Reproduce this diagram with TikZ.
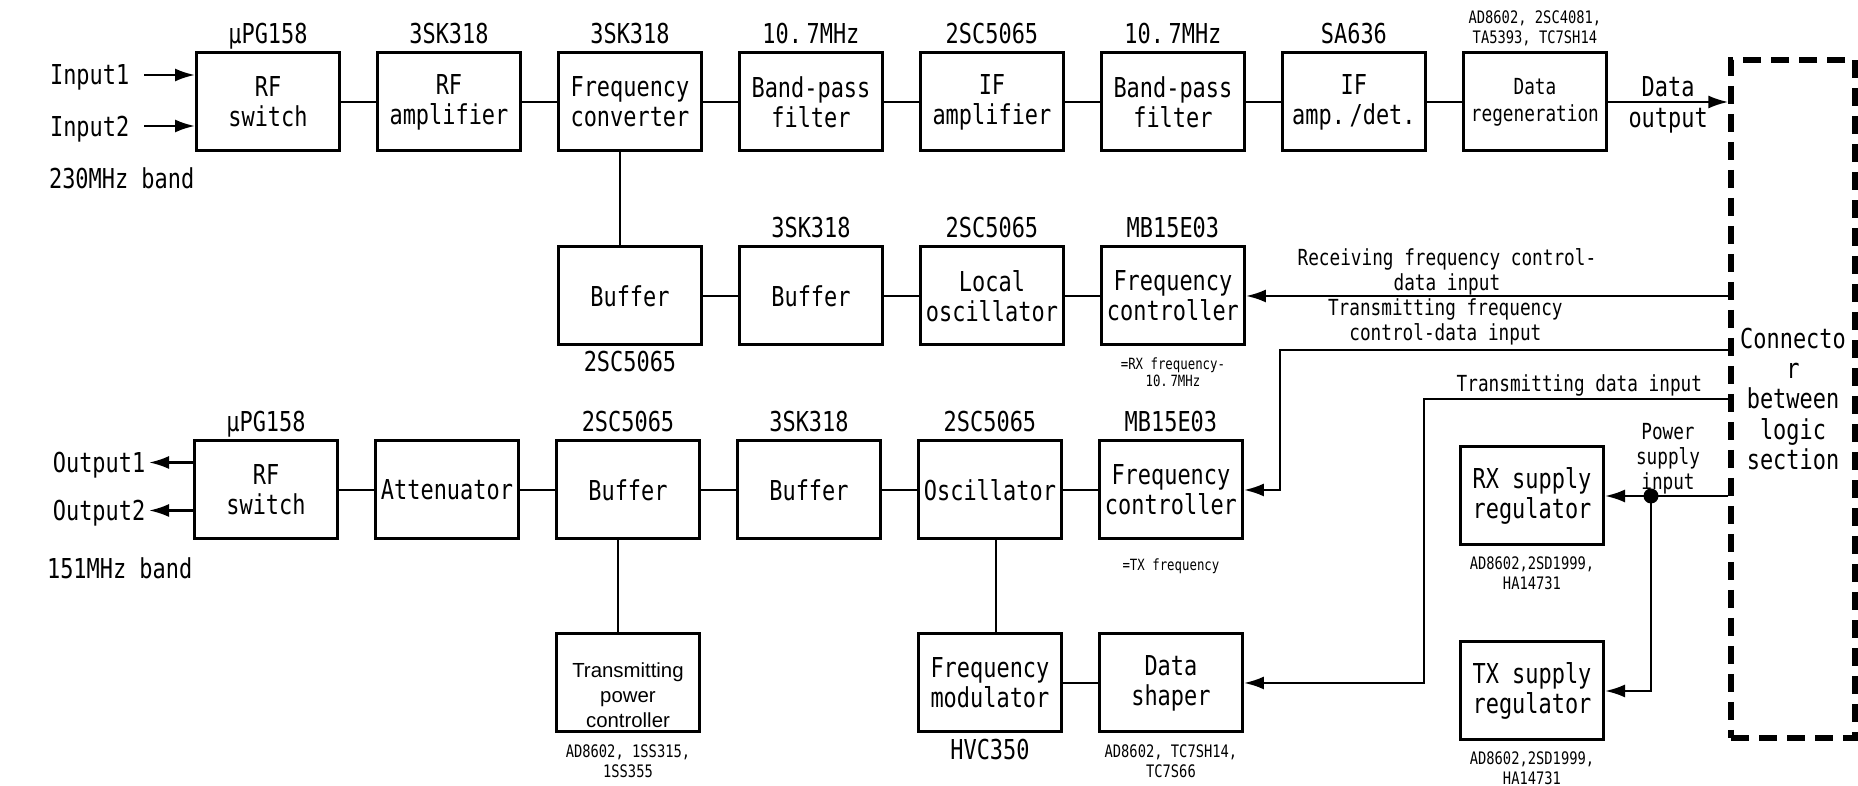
\documentclass[tikz,border=0pt]{standalone}
\usepackage{fontspec}
\newfontfamily\gothfont[FakeStretch=0.8]{DejaVu Sans Mono}
\newfontfamily\arialfont{Liberation Sans}
\usetikzlibrary{arrows.meta, positioning}

\begin{document}
\begin{tikzpicture}[
  blk/.style={
    draw, line width=0.85pt,
    minimum width=1.43cm, minimum height=0.98cm,
    inner sep=0.5pt, align=center,
    font=\gothfont\fontsize{7.8}{8.6}\selectfont
  },
  pn/.style={
    inner sep=0pt, text depth=0pt, align=center,
    font=\gothfont\fontsize{7.8}{8.6}\selectfont
  },
  sn/.style={
    inner sep=0pt, align=center,
    font=\gothfont\fontsize{4.9}{5.7}\selectfont
  },
  tn/.style={
    inner sep=0pt, align=center,
    font=\gothfont\fontsize{4.4}{4.9}\selectfont
  },
  lbl/.style={
    inner sep=0pt, text depth=0pt, align=center,
    font=\gothfont\fontsize{6.3}{7.1}\selectfont
  },
  connbox/.style={
    draw, line width=1.5pt, dash pattern=on 1.8mm off 1mm,
    minimum width=1.24cm, minimum height=6.78cm,
    inner sep=0pt, align=center,
    font=\gothfont\fontsize{7.8}{8.6}\selectfont
  },
  wire/.style={line width=0.7pt},
  arr/.style={-{Latex[length=2mm, width=1.3mm]}, line width=0.7pt}
]
  \useasboundingbox (0,0) rectangle (18.58,-7.86);

  % receiver
  \node[blk] (rfsw) at (2.68,-1.02) {RF\\switch};
  \node[blk, right=0.35cm of rfsw] (rfamp) {RF\\amplifier};
  \node[blk, right=0.35cm of rfamp] (conv) {Frequency\\converter};
  \node[blk, right=0.35cm of conv] (bpfa) {Band-pass\\filter};
  \node[blk, right=0.35cm of bpfa] (ifamp) {IF\\amplifier};
  \node[blk, right=0.35cm of ifamp] (bpfb) {Band-pass\\filter};
  \node[blk, right=0.35cm of bpfb] (ifdet) {IF\\amp.\,/det.};
  \node[blk, right=0.35cm of ifdet, font=\gothfont\fontsize{6.3}{7.7}\selectfont] (regen)
    {Data\\regeneration};

  \node[pn, above=2pt of rfsw] (pnrfsw) {μPG158};
  \node[pn, above=2pt of rfamp] (pnrfamp) {3SK318};
  \node[pn, above=2pt of conv] (pnconv) {3SK318};
  \node[pn, above=2pt of bpfa] (pnbpfa) {10.\,7MHz};
  \node[pn, above=2pt of ifamp] (pnifamp) {2SC5065};
  \node[pn, above=2pt of bpfb] (pnbpfb) {10.\,7MHz};
  \node[pn, above=2pt of ifdet] (pnifdet) {SA636};
  \node[sn, text depth=0pt, above=2pt of regen] (pnregen)
    {AD8602, 2SC4081,\\TA5393, TC7SH14};

  % local oscillator
  \node[blk, below=0.93cm of conv] (bufa) {Buffer};
  \node[blk, right=0.35cm of bufa] (bufb) {Buffer};
  \node[blk, right=0.35cm of bufb] (losc) {Local\\oscillator};
  \node[blk, right=0.35cm of losc] (fctla) {Frequency\\controller};

  \node[pn, below=1pt of bufa] (pnbufa) {2SC5065};
  \node[pn, above=2pt of bufb] (pnbufb) {3SK318};
  \node[pn, above=2pt of losc] (pnlosc) {2SC5065};
  \node[pn, above=2pt of fctla] (pnfctla) {MB15E03};
  \node[tn, below=3pt of fctla] (rxnote) {=RX frequency-\\10.\,7MHz};

  % transmitter
  \node[blk] (rfswb) at (2.66,-4.90) {RF\\switch};
  \node[blk, right=0.35cm of rfswb] (att) {Attenuator};
  \node[blk, right=0.35cm of att] (bufc) {Buffer};
  \node[blk, right=0.35cm of bufc] (bufd) {Buffer};
  \node[blk, right=0.35cm of bufd] (osc) {Oscillator};
  \node[blk, right=0.35cm of osc] (fctlb) {Frequency\\controller};

  \node[pn, above=2pt of rfswb] (pnrfswb) {μPG158};
  \node[pn, above=2pt of bufc] (pnbufc) {2SC5065};
  \node[pn, above=2pt of bufd] (pnbufd) {3SK318};
  \node[pn, above=2pt of osc] (pnosc) {2SC5065};
  \node[pn, above=2pt of fctlb] (pnfctlb) {MB15E03};
  \node[tn, below=5pt of fctlb] (txnote) {=TX frequency};

  \node[blk, below=0.92cm of bufc] (tpc) {};
  \node[inner sep=0pt, align=center, font=\arialfont\fontsize{5.8}{7.1}\selectfont]
    (tpctxt) at ([yshift=-1.2mm]tpc.center) {Transmitting\\power\\controller};
  \node[blk, below=0.92cm of osc] (fmod) {Frequency\\modulator};
  \node[blk, right=0.35cm of fmod] (shaper) {Data\\shaper};

  \node[sn, below=3pt of tpc] (pntpc) {AD8602, 1SS315,\\1SS355};
  \node[pn, below=1.5pt of fmod] (pnfmod) {HVC350};
  \node[sn, below=3pt of shaper] (pnshaper) {AD8602, TC7SH14,\\TC7S66};

  % supply
  \node[blk] (rxreg) at (15.32,-4.96) {RX supply\\regulator};
  \node[blk, below=0.94cm of rxreg] (txreg) {TX supply\\regulator};
  \node[sn, below=2.8pt of rxreg] (pnrxreg) {AD8602,2SD1999,\\HA14731};
  \node[sn, below=2.8pt of txreg] (pntxreg) {AD8602,2SD1999,\\HA14731};

  \node[connbox] (cnct) at (17.93,-3.99) {Connecto\\r\\between\\logic\\section};

  % inputs and outputs
  \node[pn, anchor=east] (in1) at ([xshift=-6.5mm, yshift=2.7mm]rfsw.west) {Input1};
  \node[pn, anchor=east] (in2) at ([xshift=-6.5mm, yshift=-2.4mm]rfsw.west) {Input2};
  \node[pn, anchor=north east] (band1) at ([yshift=-1.4mm]rfsw.south west) {230MHz band};
  \node[pn, anchor=east] (out1) at ([xshift=-4.7mm, yshift=2.75mm]rfswb.west) {Output1};
  \node[pn, anchor=east] (out2) at ([xshift=-4.7mm, yshift=-2.05mm]rfswb.west) {Output2};
  \node[pn, anchor=north east] (band2) at ([yshift=-1.6mm]rfswb.south west) {151MHz band};

  \draw[arr] ([xshift=1.4mm]in1.east) -- (in1.east -| rfsw.west);
  \draw[arr] ([xshift=1.4mm]in2.east) -- (in2.east -| rfsw.west);
  \draw[arr] (out1.east -| rfswb.west) -- ([xshift=0.3mm]out1.east);
  \draw[arr] (out2.east -| rfswb.west) -- ([xshift=0.3mm]out2.east);

  \draw[wire] (rfsw) -- (rfamp);
  \draw[wire] (rfamp) -- (conv);
  \draw[wire] (conv) -- (bpfa);
  \draw[wire] (bpfa) -- (ifamp);
  \draw[wire] (ifamp) -- (bpfb);
  \draw[wire] (bpfb) -- (ifdet);
  \draw[wire] (ifdet) -- (regen);
  \draw[arr] (regen) -- (regen -| cnct.west) node[pn, midway] (dout) {Data\\output};

  \draw[wire] ([xshift=-1mm]conv.south) -- ([xshift=-1mm]bufa.north);
  \draw[wire] (bufa) -- (bufb);
  \draw[wire] (bufb) -- (losc);
  \draw[wire] (losc) -- (fctla);

  \draw[wire] (rfswb) -- (att);
  \draw[wire] (att) -- (bufc);
  \draw[wire] (bufc) -- (bufd);
  \draw[wire] (bufd) -- (osc);
  \draw[wire] (osc) -- (fctlb);
  \draw[wire] ([xshift=-1mm]bufc.south) -- ([xshift=-1mm]tpc.north);
  \draw[wire] ([xshift=0.6mm]osc.south) -- ([xshift=0.6mm]fmod.north);
  \draw[wire] (fmod) -- (shaper);

  % from the connector
  \draw[arr] (fctla.east -| cnct.west) -- (fctla.east);
  \node[lbl, anchor=south] (rxlbl) at ([xshift=2.01cm, yshift=0.5mm]fctla.east)
    {Receiving frequency control-\\data input};

  \draw[arr] ([yshift=4.9mm]cnct.west) -| ([xshift=3.6mm]fctlb.east) -- (fctlb.east);
  \node[lbl, anchor=south] (txflbl) at ([xshift=-2.83cm, yshift=5.8mm]cnct.west)
    {Transmitting frequency\\control-data input};

  \draw[arr] (cnct.west) -| ([xshift=1.8cm]shaper.east) -- (shaper.east);
  \node[lbl, anchor=south] (txdlbl) at ([xshift=-1.49cm, yshift=0.7mm]cnct.west)
    {Transmitting data input};

  \draw[arr] (rxreg.east -| cnct.west) -- (rxreg.east);
  \coordinate (pdot) at ([xshift=4.6mm]rxreg.east);
  \fill (pdot) circle (0.75mm);
  \draw[arr] (pdot) |- (txreg.east);
  \node[lbl, anchor=south] (pwrlbl) at ([xshift=1.7mm, yshift=0.6mm]pdot) {Power\\supply\\input};

\end{tikzpicture}
\end{document}
